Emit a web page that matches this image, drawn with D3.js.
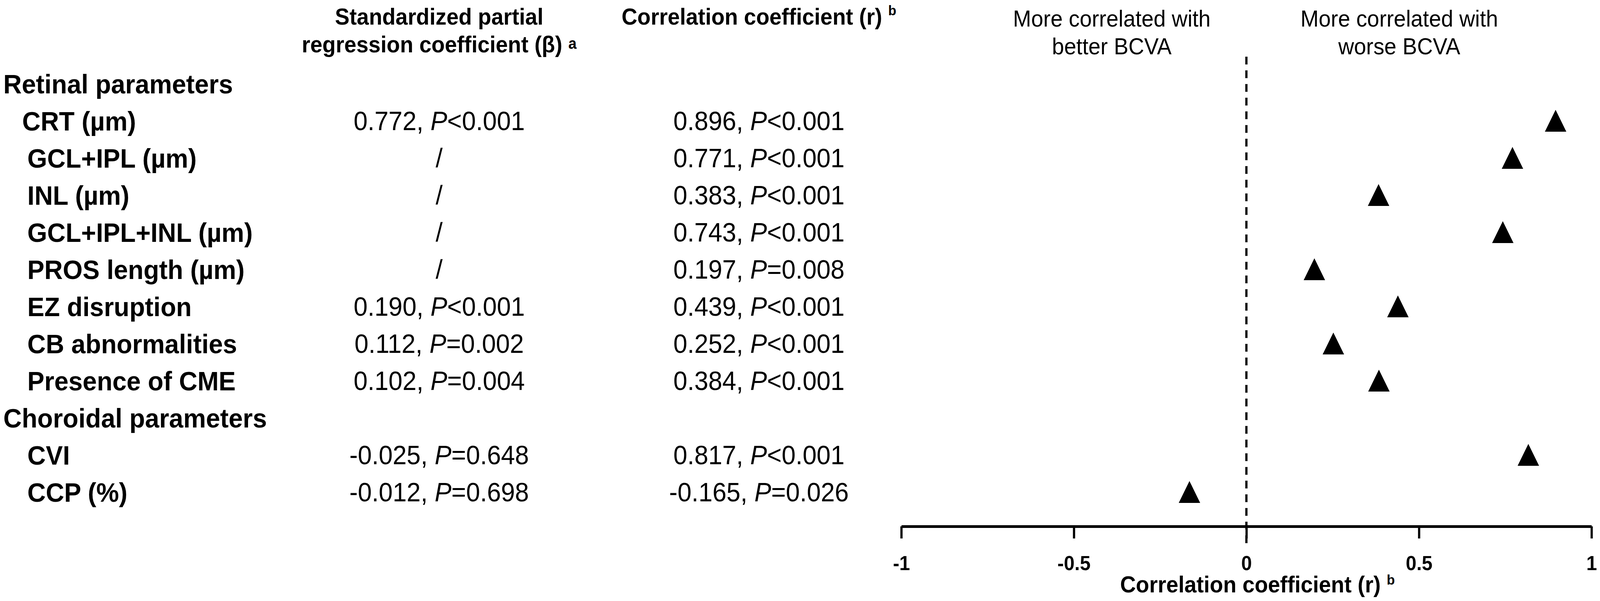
<!DOCTYPE html>
<html>
<head>
<meta charset="utf-8">
<script src="https://cdn.jsdelivr.net/npm/d3@7"></script>
<style>
  html, body { margin: 0; padding: 0; background: #fff; overflow: hidden; width: 100%; height: 100%; }
  #graf { width: 100vw; height: 100vh; }
  svg { display: block; width: 100%; height: 100%; }
  text { font-family: "Liberation Sans", Arial, sans-serif; fill: #000; }
</style>
</head>
<body>
<div id="graf"></div>
<script>
// datos de la tabla / forest plot
const groups = ["Retinal parameters", "Choroidal parameters"];
const parameters = ["CRT (µm)", "GCL+IPL (µm)", "INL (µm)", "GCL+IPL+INL (µm)", "PROS length (µm)",
  "EZ disruption", "CB abnormalities", "Presence of CME", "CVI", "CCP (%)"];
const parameterGroup = [0, 0, 0, 0, 0, 0, 0, 0, 1, 1];
const betaCoef = ["0.772", null, null, null, null, "0.190", "0.112", "0.102", "-0.025", "-0.012"];
const betaP = ["<0.001", null, null, null, null, "<0.001", "=0.002", "=0.004", "=0.648", "=0.698"];
const rCoef = [0.896, 0.771, 0.383, 0.743, 0.197, 0.439, 0.252, 0.384, 0.817, -0.165];
const rP = ["<0.001", "<0.001", "<0.001", "<0.001", "=0.008", "<0.001", "<0.001", "<0.001", "<0.001", "=0.026"];
const xTicks = [-1, -0.5, 0, 0.5, 1];

// armar las filas (grupo + parametros)
const rows = [];
groups.forEach((gName, gi) => {
  rows.push({ key: gName, label: gName, group: true });
  parameters.forEach((p, i) => {
    if (parameterGroup[i] === gi) {
      rows.push({ key: p, label: p, group: false, beta: betaCoef[i], betaP: betaP[i], r: rCoef[i], rP: rP[i] });
    }
  });
});

// Dimensiones (coordenadas internas del viewBox)
const anchoTotal = 4328;
const altoTotal = 1538;

const svg = d3.select("#graf")
  .append("svg")
  .attr("viewBox", `0 0 ${anchoTotal} ${altoTotal}`)
  .attr("preserveAspectRatio", "none");

svg.append("rect").attr("width", anchoTotal).attr("height", altoTotal).attr("fill", "white");

// Escaladores
const y = d3.scalePoint()
  .domain(rows.map(d => d.key))
  .range([214, 1259]);

const x = d3.scaleLinear()
  .domain([-1, 1])
  .range([2438, 4305]);

const colBeta = 1188;
const colR = 2053;
const axisY = 1347;

// etiquetas de filas
const indent = { "CRT (µm)": 60 };
svg.append("g")
  .selectAll("text")
  .data(rows)
  .join("text")
  .attr("x", d => d.group ? 9 : (indent[d.key] || 74))
  .attr("y", d => y(d.key))
  .attr("dy", "0.36em")
  .attr("font-size", 69)
  .attr("font-weight", "bold")
  .text(d => d.label);

// columna beta
const betaTxt = svg.append("g")
  .selectAll("text")
  .data(rows.filter(d => !d.group))
  .join("text")
  .attr("x", colBeta)
  .attr("y", d => y(d.key))
  .attr("dy", "0.36em")
  .attr("font-size", 68)
  .attr("text-anchor", "middle");

betaTxt.each(function(d) {
  const t = d3.select(this);
  if (d.beta === null) {
    t.text("/");
  } else {
    t.append("tspan").text(d.beta + ", ");
    t.append("tspan").attr("font-style", "italic").text("P");
    t.append("tspan").text(d.betaP);
  }
});

// columna r
const rTxt = svg.append("g")
  .selectAll("text")
  .data(rows.filter(d => !d.group))
  .join("text")
  .attr("x", colR)
  .attr("y", d => y(d.key))
  .attr("dy", "0.36em")
  .attr("font-size", 68)
  .attr("text-anchor", "middle");

rTxt.each(function(d) {
  const t = d3.select(this);
  t.append("tspan").text(d.r.toFixed(3) + ", ");
  t.append("tspan").attr("font-style", "italic").text("P");
  t.append("tspan").text(d.rP);
});

// Titulos de columnas
svg.append("text")
  .attr("x", colBeta).attr("y", 63)
  .attr("font-size", 59).attr("font-weight", "bold")
  .attr("text-anchor", "middle")
  .text("Standardized partial");

const h2 = svg.append("text")
  .attr("x", colBeta).attr("y", 134)
  .attr("font-size", 59).attr("font-weight", "bold")
  .attr("text-anchor", "middle");
h2.append("tspan").text("regression coefficient (β) ");
h2.append("tspan").attr("font-size", 40).attr("dy", -9).text("a");

const h3 = svg.append("text")
  .attr("x", colR).attr("y", 63)
  .attr("font-size", 59).attr("font-weight", "bold")
  .attr("text-anchor", "middle");
h3.append("tspan").text("Correlation coefficient (r) ");
h3.append("tspan").attr("font-size", 36).attr("dy", -24).text("b");

// anotaciones arriba del grafico
const notas = [
  { v: -0.39, lines: ["More correlated with", "better BCVA"] },
  { v: 0.443, lines: ["More correlated with", "worse BCVA"] }
];
notas.forEach(n => {
  n.lines.forEach((l, i) => {
    svg.append("text")
      .attr("x", x(n.v))
      .attr("y", 68 + i * 71)
      .attr("font-size", 59)
      .attr("text-anchor", "middle")
      .text(l);
  });
});

// linea punteada en cero
svg.append("line")
  .attr("x1", x(0)).attr("x2", x(0))
  .attr("y1", 145).attr("y2", 1395)
  .attr("stroke", "#000")
  .attr("stroke-width", 6)
  .attr("stroke-dasharray", "20,15");

// Eje x
const xAxis = d3.axisBottom(x)
  .tickValues(xTicks)
  .tickFormat(d => d === 0 ? "0" : String(d))
  .tickSizeInner(31)
  .tickSizeOuter(0)
  .tickPadding(44);

const xAxisGroup = svg.append("g")
  .attr("transform", `translate(0, ${axisY})`)
  .call(xAxis);

xAxisGroup.select(".domain").attr("stroke-width", 7).attr("stroke", "#000");
xAxisGroup.selectAll(".tick line").attr("stroke-width", 6).attr("stroke", "#000");
xAxisGroup.selectAll(".tick text")
  .attr("font-size", 52)
  .attr("font-weight", "bold")
  .attr("font-family", "Liberation Sans, Arial, sans-serif")
  .attr("fill", "#000");

const xt = svg.append("text")
  .attr("x", x(0) + 30).attr("y", 1516)
  .attr("font-size", 59).attr("font-weight", "bold")
  .attr("text-anchor", "middle");
xt.append("tspan").text("Correlation coefficient (r) ");
xt.append("tspan").attr("font-size", 36).attr("dy", -20).text("b");

// triangulos
const triW = 58, triH = 56;
svg.append("g")
  .selectAll("path")
  .data(rows.filter(d => !d.group))
  .join("path")
  .attr("transform", d => `translate(${x(d.r)}, ${y(d.key)})`)
  .attr("d", `M0,${-triH / 2} L${triW / 2},${triH / 2} L${-triW / 2},${triH / 2} Z`)
  .attr("fill", "#000");
</script>
</body>
</html>
